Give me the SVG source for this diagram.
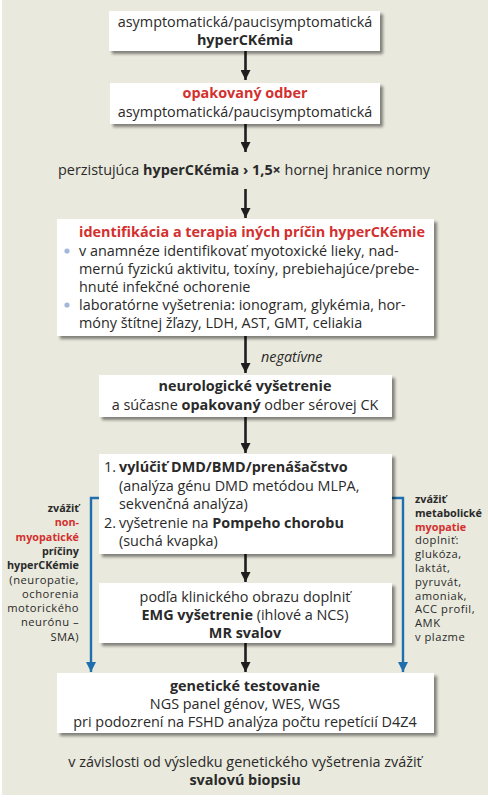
<svg xmlns="http://www.w3.org/2000/svg" width="488" height="800" viewBox="0 0 488 800">
<defs>
<filter id="sh" x="-10%" y="-20%" width="125%" height="150%">
<feGaussianBlur in="SourceAlpha" stdDeviation="1.8"/>
<feOffset dx="2.5" dy="2.5" result="b"/>
<feComponentTransfer><feFuncA type="linear" slope="0.45"/></feComponentTransfer>
<feMerge><feMergeNode/><feMergeNode in="SourceGraphic"/></feMerge>
</filter>
<marker id="ah" viewBox="0 0 10 10" refX="10" refY="5" markerWidth="10" markerHeight="10" markerUnits="userSpaceOnUse" orient="auto">
<path d="M0,0 L10,5 L0,10 Z" fill="#1e1e1e"/>
</marker>
<marker id="ahb" viewBox="0 0 10 10" refX="10" refY="5" markerWidth="10" markerHeight="10" markerUnits="userSpaceOnUse" orient="auto">
<path d="M0,0 L10,5 L0,10 Z" fill="#1f6fae"/>
</marker>
</defs>
<style>
text{font-family:"Open Sans","Noto Sans","DejaVu Sans",sans-serif;fill:#2a2a2a;font-size:14.4px}
.c{text-anchor:middle}
.b{font-weight:700}
.r{fill:#d3302f;font-weight:700}
.box{fill:#ffffff;filter:url(#sh)}
.s{font-size:11.2px;letter-spacing:0.5px}
.s.b,.s.r{font-size:10.8px;letter-spacing:0}
.e{text-anchor:end}
.i{font-style:italic}
.ar{stroke:#1e1e1e;stroke-width:2.6;fill:none;marker-end:url(#ah)}
.bl{stroke:#1f6fae;stroke-width:2.4;fill:none;marker-end:url(#ahb)}
.dot{fill:#a3b7da}
</style>
<rect x="2" y="0" width="486" height="795" fill="#e9e9dd"/>

<g id="connectors">
<path class="ar" d="M245.5,51 V80"/>
<path class="ar" d="M245.5,124 V152"/>
<path class="ar" d="M245.5,189 V218"/>
<path class="ar" d="M245.5,336 V373"/>
<path class="ar" d="M245.5,417 V453"/>
<path class="ar" d="M245.5,554 V582"/>
<path class="ar" d="M245.5,643 V672"/>
<path class="bl" d="M99,498 H91 V672"/>
<path class="bl" d="M392,498 H403 V672"/>
<text class="i" x="261" y="362" font-size="13.5">negatívne</text>
</g>

<g id="n1">
<rect class="box" x="109" y="11" width="271" height="40"/>
<text class="c" x="245" y="27">asymptomatická/paucisymptomatická</text>
<text class="c b" x="245" y="45">hyperCKémia</text>
</g>

<g id="n2">
<rect class="box" x="110" y="83" width="270" height="41"/>
<text class="c r" x="245" y="98">opakovaný odber</text>
<text class="c" x="245" y="117">asymptomatická/paucisymptomatická</text>
</g>

<g id="n3">
<text class="c" x="244" y="175">perzistujúca <tspan class="b">hyperCKémia › 1,5×</tspan> hornej hranice normy</text>
</g>

<g id="n4">
<rect class="box" x="57" y="219" width="377" height="117"/>
<text class="r" x="79" y="237">identifikácia a terapia iných príčin hyperCKémie</text>
<circle class="dot" cx="67" cy="251" r="2.6"/>
<text x="79" y="256">v anamnéze identifikovať myotoxické lieky, nad-</text>
<text x="79" y="274">mernú fyzickú aktivitu, toxíny, prebiehajúce/prebe-</text>
<text x="79" y="292">hnuté infekčné ochorenie</text>
<circle class="dot" cx="67" cy="305" r="2.6"/>
<text x="79" y="310">laboratórne vyšetrenia: ionogram, glykémia, hor-</text>
<text x="79" y="328">móny štítnej žľazy, LDH, AST, GMT, celiakia</text>
</g>

<g id="n5">
<rect class="box" x="99" y="375" width="293" height="42"/>
<text class="c b" x="245" y="391">neurologické vyšetrenie</text>
<text class="c" x="245" y="410">a súčasne <tspan class="b">opakovaný</tspan> odber sérovej CK</text>
</g>

<g id="n6">
<rect class="box" x="99" y="454" width="293" height="100"/>
<text x="104" y="472">1.</text>
<text class="b" x="119" y="472">vylúčiť DMD/BMD/prenášačstvo</text>
<text x="119" y="490.5">(analýza génu DMD metódou MLPA,</text>
<text x="119" y="509">sekvenčná analýza)</text>
<text x="104" y="527.5">2.</text>
<text x="119" y="527.5">vyšetrenie na <tspan class="b">Pompeho chorobu</tspan></text>
<text x="119" y="546">(suchá kvapka)</text>
</g>

<g id="n7">
<rect class="box" x="99" y="583" width="293" height="60"/>
<text class="c" x="245" y="602">podľa klinického obrazu doplniť</text>
<text class="c" x="245" y="620"><tspan class="b">EMG vyšetrenie</tspan> (ihlové a NCS)</text>
<text class="c b" x="245" y="638">MR svalov</text>
</g>

<g id="n8">
<rect class="box" x="57" y="673" width="377" height="60"/>
<text class="c b" x="245" y="691">genetické testovanie</text>
<text class="c" x="245" y="709">NGS panel génov, WES, WGS</text>
<text class="c" x="245" y="727">pri podozrení na FSHD analýza počtu repetícií D4Z4</text>
</g>

<g id="n9">
<text class="c" x="245" y="767">v závislosti od výsledku genetického vyšetrenia zvážiť</text>
<text class="c b" x="245" y="785">svalovú biopsiu</text>
</g>

<g id="n10">
<text class="s e b" x="79" y="512">zvážiť</text>
<text class="s e r" x="79" y="526.3">non-</text>
<text class="s e r" x="79" y="540.6">myopatické</text>
<text class="s e b" x="79" y="554.9">príčiny</text>
<text class="s e b" x="79" y="569.2">hyperCKémie</text>
<text class="s e" x="79" y="583.5">(neuropatie,</text>
<text class="s e" x="79" y="597.8">ochorenia</text>
<text class="s e" x="79" y="612.1">motorického</text>
<text class="s e" x="79" y="626.4">neurónu –</text>
<text class="s e" x="79" y="640.7">SMA)</text>
</g>

<g id="n11">
<text class="s b" x="415" y="503">zvážiť</text>
<text class="s b" x="415" y="516.8">metabolické</text>
<text class="s r" x="415" y="530.6">myopatie</text>
<text class="s" x="415" y="544.4">doplniť:</text>
<text class="s" x="415" y="558.2">glukóza,</text>
<text class="s" x="415" y="572">laktát,</text>
<text class="s" x="415" y="585.8">pyruvát,</text>
<text class="s" x="415" y="599.6">amoniak,</text>
<text class="s" x="415" y="613.4">ACC profil,</text>
<text class="s" x="415" y="627.2">AMK</text>
<text class="s" x="415" y="641">v plazme</text>
</g>
</svg>
